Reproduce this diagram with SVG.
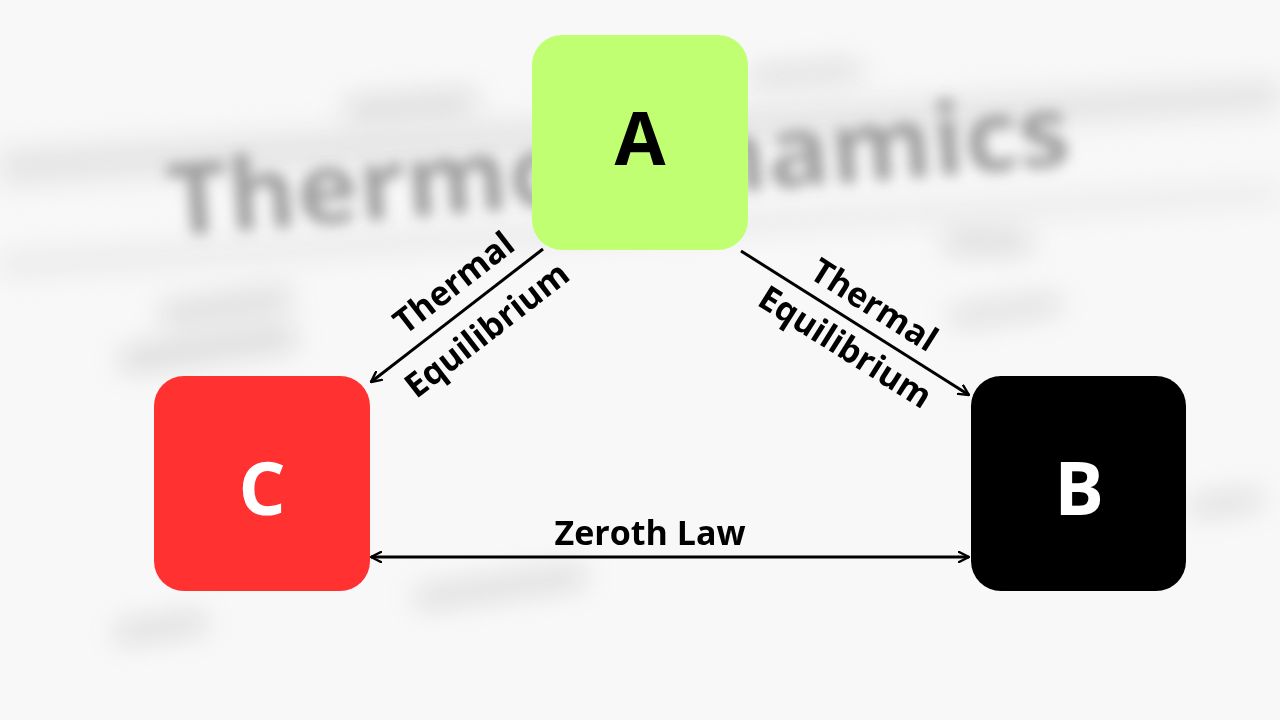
<svg xmlns="http://www.w3.org/2000/svg" width="1280" height="720" viewBox="0 0 1280 720">
<defs>
<filter id="blurBig" x="-20%" y="-50%" width="140%" height="200%"><feGaussianBlur stdDeviation="14"/></filter>
<filter id="blurMid" x="-20%" y="-50%" width="140%" height="200%"><feGaussianBlur stdDeviation="7"/></filter>
<marker id="arr" viewBox="0 0 12 12" refX="11" refY="6" markerWidth="12" markerHeight="12" markerUnits="userSpaceOnUse" orient="auto-start-reverse">
<path d="M1,1 L11,6 L1,11" fill="none" stroke="#000" stroke-width="2.4" stroke-linecap="round" stroke-linejoin="round"/>
</marker>
<style>
.node-letter{font-family:"Open Sans","DejaVu Sans",sans-serif;font-weight:700;font-size:74px;text-anchor:middle;dominant-baseline:central}
.lbl{font-family:"Open Sans","DejaVu Sans",sans-serif;font-weight:700;font-size:34px;fill:#000;text-anchor:middle}
.conn{stroke:#000;stroke-width:3;fill:none}
.bg-blob{fill:#a8a8a8}
</style>
</defs>
<rect width="1280" height="720" fill="#f8f8f8"/>
<g id="background" opacity="0.5">
<g filter="url(#blurBig)">
<polygon points="0,150 1280,80 1280,110 0,185" fill="#d0d0d0"/>
<polygon points="0,255 1280,185 1280,200 0,275" fill="#d8d8d8"/>
</g>
<g filter="url(#blurMid)">
<text x="170" y="236" transform="rotate(-4.5 170 236)" font-family="'Open Sans','DejaVu Sans',sans-serif" font-weight="700" font-size="100" textLength="905" lengthAdjust="spacingAndGlyphs" fill="#444">Thermodynamics</text>
</g>
<g filter="url(#blurBig)" opacity="0.8">
<rect class="bg-blob" x="345" y="100" width="130" height="20" transform="rotate(-4 345 100)"/>
<rect class="bg-blob" x="750" y="70" width="110" height="16" transform="rotate(-4 750 70)"/>
<rect class="bg-blob" x="945" y="232" width="85" height="20"/>
<rect class="bg-blob" x="160" y="305" width="130" height="20" transform="rotate(-8 160 305)"/>
<rect class="bg-blob" x="120" y="350" width="175" height="22" transform="rotate(-8 120 350)"/>
<rect class="bg-blob" x="950" y="310" width="110" height="16" transform="rotate(-8 950 310)"/>
<rect class="bg-blob" x="1190" y="500" width="70" height="16" transform="rotate(-8 1190 500)"/>
<rect class="bg-blob" x="415" y="590" width="170" height="18" transform="rotate(-8 415 590)"/>
<rect class="bg-blob" x="115" y="625" width="90" height="18" transform="rotate(-8 115 625)"/>
</g>
</g>
<g id="connectors">
<line class="conn" x1="543" y1="249" x2="371" y2="382" marker-end="url(#arr)"/>
<line class="conn" x1="741" y1="251" x2="969" y2="395" marker-end="url(#arr)"/>
<line class="conn" x1="371" y1="557" x2="969" y2="557" marker-start="url(#arr)" marker-end="url(#arr)"/>
<text class="lbl" transform="translate(461 292) rotate(-37.8)">Thermal</text>
<text class="lbl" transform="translate(494 339) rotate(-37.8)">Equilibrium</text>
<text class="lbl" transform="translate(868 315) rotate(32.3)">Thermal</text>
<text class="lbl" transform="translate(839 357) rotate(32.3)">Equilibrium</text>
<text class="lbl" x="650" y="545" font-size="37">Zeroth Law</text>
</g>
<g id="node-A">
<rect x="532" y="35" width="216" height="215" rx="30" fill="#c1ff72"/>
<text class="node-letter" x="640" y="136" fill="#000">A</text>
</g>
<g id="node-C">
<rect x="154" y="376" width="216" height="215" rx="30" fill="#ff3131"/>
<text class="node-letter" x="262" y="486" fill="#fff">C</text>
</g>
<g id="node-B">
<rect x="971" y="376" width="215" height="215" rx="30" fill="#000"/>
<text class="node-letter" x="1079" y="486" fill="#fff">B</text>
</g>
</svg>
